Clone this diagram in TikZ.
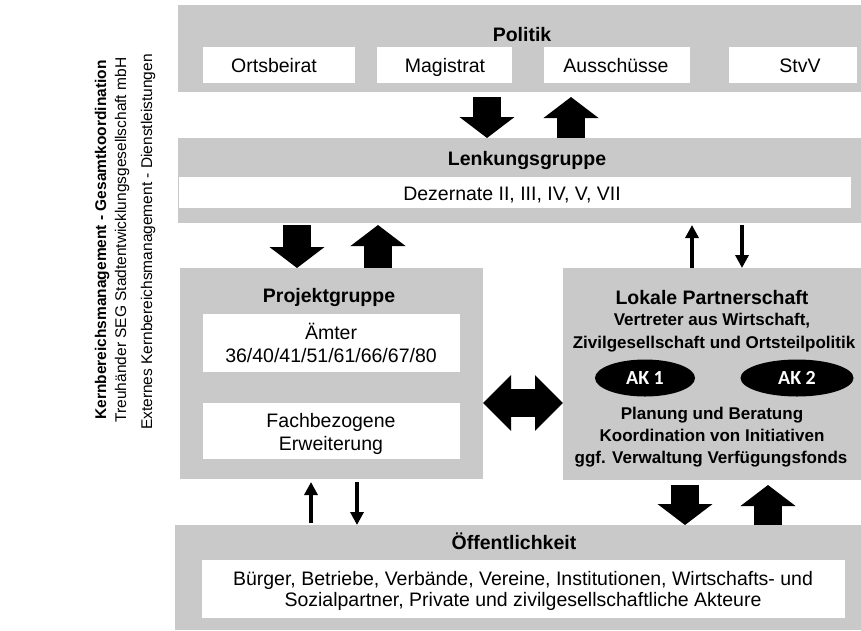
\documentclass[tikz,border=0pt]{standalone}
\usepackage{fontspec}
\setmainfont{Liberation Sans}
\newfontfamily\akfont{Carlito}
\usetikzlibrary{arrows.meta,shapes.geometric}
\definecolor{bandgray}{gray}{0.79}
\begin{document}
\begin{tikzpicture}[x=1pt,y=-1pt,
  every node/.style={inner sep=0pt, outer sep=0pt},
  band/.style={fill=bandgray, draw=none, anchor=north west},
  wbox/.style={fill=white, draw=none, anchor=north west},
  body/.style={anchor=base, font=\fontsize{19.5}{21}\selectfont},
  title/.style={anchor=base, font=\fontsize{19.5}{21}\selectfont\bfseries},
  lok/.style={anchor=base, font=\fontsize{17}{21}\selectfont\bfseries},
  bigarrow/.style={line width=28pt, -{Triangle[width=54pt,length=21pt]}},
  smallarrow/.style={line width=3.5pt, -{Triangle[width=13pt,length=13pt]}},
  dblarrow/.style={line width=28pt, {Triangle[width=54pt,length=28pt]}-{Triangle[width=54pt,length=28pt]}},
  akell/.style={ellipse, fill=black, text=white, font=\fontsize{20}{22}\selectfont\akfont\bfseries},
  side/.style={rotate=90, anchor=base, font=\fontsize{15.5}{17}\selectfont}
]
\useasboundingbox (0,0) rectangle (861,630);
\fill[white] (0,0) rectangle (861,630);

% side texts
\node[side, font=\fontsize{15.5}{17}\selectfont\bfseries] (s1) at (106,240) {Kernbereichsmanagement - Gesamtkoordination};
\node[side] (s2) at (126,240) {Treuhänder SEG Stadtentwicklungsgesellschaft mbH};
\node[side] (s3) at (152,242) {Externes Kernbereichsmanagement - Dienstleistungen};

% Politik
\node[band, minimum width=683pt, minimum height=87pt] (pol) at (178,5) {};
\node[title] (polt) at (522,41) {Politik};
\node[wbox, minimum width=152pt, minimum height=36pt] (ortb) at (203,47) {};
\node[wbox, minimum width=135pt, minimum height=36pt] (magb) at (377,47) {};
\node[wbox, minimum width=146pt, minimum height=36pt] (ausb) at (544,47) {};
\node[wbox, minimum width=128pt, minimum height=36pt] (stvb) at (729,47) {};
\node[body] (ort) at (274,72) {Ortsbeirat};
\node[body] (mag) at (445,72) {Magistrat};
\node[body] (aus) at (616,72) {Ausschüsse};
\node[body] (stv) at (800,72) {StvV};

% Lenkungsgruppe
\node[band, minimum width=683pt, minimum height=85pt] (lenk) at (178,138) {};
\node[title] (lenkt) at (527,165) {Lenkungsgruppe};
\node[wbox, minimum width=672pt, minimum height=31pt] (dezb) at (179,177) {};
\node[body] (dez) at (512,200) {Dezernate II, III, IV, V, VII};

% Projektgruppe
\node[band, minimum width=303pt, minimum height=211pt] (proj) at (180,268) {};
\node[title] (projt) at (329,302) {Projektgruppe};
\node[wbox, minimum width=257pt, minimum height=58pt] (amtb) at (203,314) {};
\node[body] (amt1) at (331,339) {Ämter};
\node[body] (amt2) at (331,362) {36/40/41/51/61/66/67/80};
\node[wbox, minimum width=257pt, minimum height=56pt] (fachb) at (203,403) {};
\node[body] (fach1) at (331,427) {Fachbezogene};
\node[body] (fach2) at (331,450) {Erweiterung};

% Lokale Partnerschaft
\node[band, minimum width=298pt, minimum height=212pt] (lokb) at (563,268) {};
\node[title] (lok1) at (712,304) {Lokale Partnerschaft};
\node[lok] (lok2) at (712,325) {Vertreter aus Wirtschaft,};
\node[lok] (lok3) at (714,348) {Zivilgesellschaft und Ortsteilpolitik};
\node[akell, minimum width=100pt, minimum height=37pt] (ak1) at (645,378) {AK 1};
\node[akell, minimum width=113pt, minimum height=37pt] (ak2) at (797,378) {AK 2};
\node[lok] (lok4) at (712,419) {Planung und Beratung};
\node[lok] (lok5) at (712,441) {Koordination von Initiativen};
\node[lok] (lok6) at (711,463) {ggf. Verwaltung Verfügungsfonds};

% Öffentlichkeit
\node[band, minimum width=686pt, minimum height=105pt] (oef) at (175,525) {};
\node[title] (oeft) at (514,549) {Öffentlichkeit};
\node[wbox, minimum width=643pt, minimum height=58pt] (burb) at (202,560) {};
\node[body] (bur1) at (523,585) {Bürger, Betriebe, Verbände, Vereine, Institutionen, Wirtschafts- und};
\node[body] (bur2) at (523,606) {Sozialpartner, Private und zivilgesellschaftliche Akteure};

% x positions of the connectors
\coordinate (xa) at (487,0);
\coordinate (xb) at (571,0);
\coordinate (xc) at (297,0);
\coordinate (xd) at (378,0);
\coordinate (xe) at (692,0);
\coordinate (xf) at (742,0);
\coordinate (xg) at (311,0);
\coordinate (xh) at (357,0);
\coordinate (xi) at (685,0);
\coordinate (xj) at (768,0);
\coordinate (yd) at (0,403);

% Politik <-> Lenkungsgruppe
\draw[bigarrow, shorten <=5pt] (pol.south -| xa) -- (lenk.north -| xa);
\draw[bigarrow, shorten >=5pt] (lenk.north -| xb) -- (pol.south -| xb);
% Lenkungsgruppe <-> Projektgruppe
\draw[bigarrow, shorten <=2pt] (lenk.south -| xc) -- (proj.north -| xc);
\draw[bigarrow, shorten >=2pt] (proj.north -| xd) -- (lenk.south -| xd);
% Lenkungsgruppe <-> Lokale Partnerschaft
\draw[smallarrow, shorten >=2pt] (lokb.north -| xe) -- (lenk.south -| xe);
\draw[smallarrow, shorten <=2pt] (lenk.south -| xf) -- (lokb.north -| xf);
% Projektgruppe <-> Lokale Partnerschaft
\draw[dblarrow] (proj.east |- yd) -- (lokb.west |- yd);
% Projektgruppe <-> Öffentlichkeit
\draw[smallarrow, shorten >=3pt, shorten <=2pt] (oef.north -| xg) -- (proj.south -| xg);
\draw[smallarrow, shorten <=3pt] (proj.south -| xh) -- (oef.north -| xh);
% Lokale Partnerschaft <-> Öffentlichkeit
\draw[bigarrow, shorten <=5pt] (lokb.south -| xi) -- (oef.north -| xi);
\draw[bigarrow, shorten >=5pt] (oef.north -| xj) -- (lokb.south -| xj);
\end{tikzpicture}
\end{document}
